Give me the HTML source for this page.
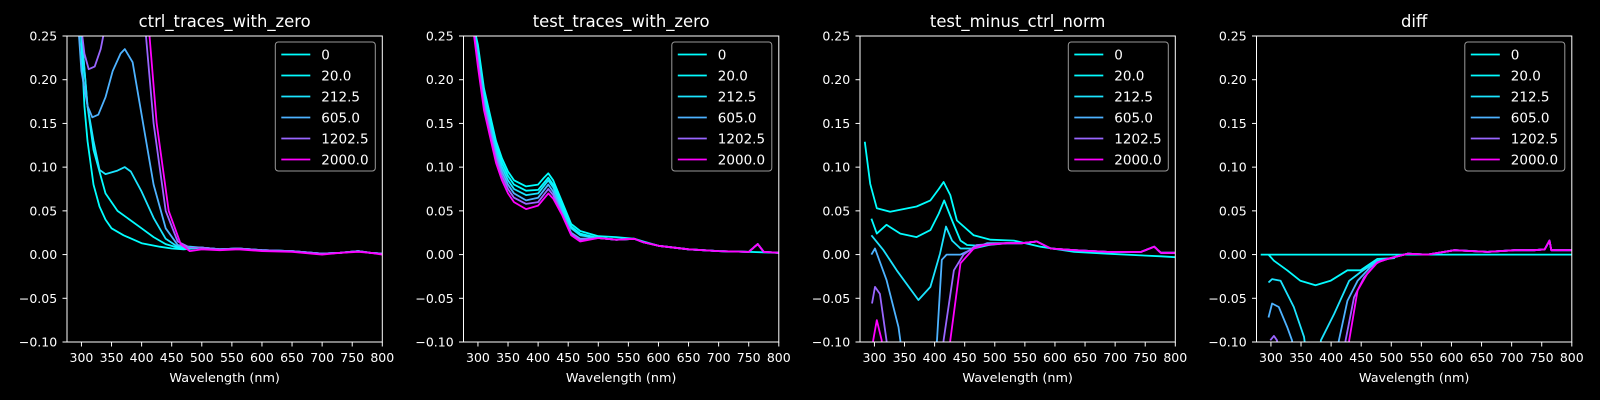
<!DOCTYPE html>
<html><head><meta charset="utf-8"><style>
html,body{margin:0;padding:0;background:#000;}
svg{display:block;}
text{font-family:"DejaVu Sans","Liberation Sans",sans-serif;fill:#fff;}
</style></head><body>
<svg id="fig" width="1600" height="400" viewBox="0 0 1600 400"></svg>
<script>
const legendLabels = ["0","20.0","212.5","605.0","1202.5","2000.0"];
const seriesColors = ["#00ffff","#03fcff","#1be4ff","#4db2ff","#9966ff","#ff00ff"];
const panelTitles = ["ctrl_traces_with_zero","test_traces_with_zero","test_minus_ctrl_norm","diff"];
const xTicks = [300,350,400,450,500,550,600,650,700,750,800];
const yTicks = [-0.10,-0.05,0.00,0.05,0.10,0.15,0.20,0.25];
const xDomain = [276,800];
const yDomain = [-0.10,0.25];

const tail1 = [[500,0.008],[530,0.006],[560,0.007],[600,0.005],[650,0.004],[700,0.001],[730,0.002],[760,0.004],[780,0.002],[800,0.001]];
const ctrl0 = [[298,0.27],[305,0.17],[310,0.13],[320,0.08],[330,0.055],[340,0.04],[350,0.03],[370,0.022],[400,0.013],[430,0.009],[450,0.007],[470,0.006]].concat(tail1);
const ctrl20 = [[298,0.27],[310,0.17],[320,0.12],[340,0.07],[360,0.05],[380,0.04],[400,0.03],[420,0.02],[440,0.012],[460,0.008]].concat(tail1);
const ctrl212 = [[298,0.27],[310,0.17],[320,0.13],[330,0.097],[340,0.092],[360,0.096],[372,0.1],[382,0.095],[400,0.072],[420,0.042],[440,0.018],[460,0.009],[480,0.009]].concat(tail1);
const ctrl605 = [[294,0.27],[300,0.21],[310,0.17],[318,0.157],[328,0.16],[340,0.18],[352,0.21],[365,0.23],[372,0.235],[385,0.22],[400,0.16],[420,0.08],[440,0.03],[460,0.011],[480,0.008]].concat(tail1);
const ctrl1202 = [[298,0.27],[305,0.23],[312,0.212],[322,0.215],[332,0.235],[342,0.27],[400,0.3],[406,0.26],[420,0.15],[440,0.05],[460,0.015],[480,0.008]].concat(tail1);
const ctrl2000 = [[405,0.3],[412,0.26],[425,0.15],[445,0.05],[465,0.012],[480,0.004],[500,0.006],[530,0.005],[560,0.006],[600,0.004],[650,0.003],[700,0.0],[730,0.002],[760,0.003],[780,0.002],[800,0.0]];

const tail2 = [[500,0.019],[530,0.017],[560,0.018],[575,0.014],[600,0.01],[650,0.006],[700,0.004],[750,0.003],[765,0.012],[775,0.003],[800,0.002]];
const test0 = [[290,0.27],[300,0.24],[310,0.19],[320,0.16],[330,0.13],[340,0.11],[350,0.095],[360,0.085],[380,0.078],[400,0.08],[410,0.088],[417,0.093],[425,0.085],[440,0.06],[455,0.035],[470,0.027],[500,0.021],[530,0.02],[560,0.018],[575,0.015],[600,0.01],[650,0.006],[700,0.004],[750,0.003],[800,0.002]];
const test20 = [[290,0.27],[300,0.235],[310,0.185],[320,0.155],[330,0.125],[340,0.105],[350,0.09],[360,0.08],[380,0.073],[400,0.074],[417,0.088],[425,0.08],[440,0.056],[455,0.032],[470,0.024]].concat(tail2);
const test212 = [[290,0.27],[300,0.23],[310,0.18],[320,0.15],[330,0.12],[340,0.1],[350,0.085],[360,0.075],[380,0.068],[400,0.07],[417,0.085],[425,0.077],[440,0.052],[455,0.03],[470,0.022]].concat(tail2);
const test605 = [[290,0.27],[300,0.225],[310,0.175],[320,0.145],[330,0.115],[340,0.095],[350,0.08],[360,0.07],[380,0.062],[400,0.065],[417,0.08],[425,0.072],[440,0.048],[455,0.025],[470,0.018]].concat(tail2);
const test1202 = [[290,0.27],[300,0.22],[310,0.17],[320,0.14],[330,0.11],[340,0.09],[350,0.075],[360,0.065],[380,0.058],[400,0.06],[417,0.075],[425,0.068],[440,0.046],[455,0.024],[470,0.017]].concat(tail2);
const test2000 = [[290,0.27],[300,0.215],[310,0.165],[320,0.135],[330,0.105],[340,0.085],[350,0.07],[360,0.06],[380,0.052],[400,0.056],[417,0.07],[425,0.064],[440,0.045],[455,0.022],[470,0.015]].concat(tail2);

const tail3 = [[520,0.013],[545,0.013],[570,0.015],[593,0.007],[632,0.005],[687,0.003],[743,0.003],[765,0.009],[776,0.002],[800,0.002]];
const norm0 = [[284,0.129],[293,0.081],[304,0.053],[326,0.049],[370,0.055],[393,0.062],[407,0.075],[415,0.083],[426,0.068],[437,0.039],[465,0.022],[493,0.017],[532,0.016],[576,0.009],[632,0.003],[687,0.001],[743,-0.001],[776,-0.002],[800,-0.003]];
const norm20 = [[295,0.041],[304,0.024],[320,0.034],[343,0.024],[370,0.02],[393,0.028],[407,0.047],[416,0.062],[429,0.039],[443,0.016],[454,0.011],[476,0.01],[500,0.012]].concat(tail3);
const norm212 = [[295,0.022],[315,0.005],[337,-0.018],[373,-0.052],[393,-0.037],[409,0.001],[419,0.032],[429,0.016],[443,0.007],[465,0.007],[490,0.011]].concat(tail3);
const norm605 = [[295,0.0],[301,0.007],[320,-0.029],[340,-0.083],[343,-0.098],[350,-0.14],[395,-0.14],[404,-0.098],[412,-0.006],[420,0.0],[443,0.0],[465,0.007],[487,0.013]].concat(tail3);
const norm1202 = [[296,-0.056],[301,-0.037],[309,-0.045],[320,-0.098],[325,-0.14],[410,-0.14],[415,-0.098],[432,-0.018],[448,0.0],[470,0.011]].concat(tail3);
const norm2000 = [[297,-0.14],[298,-0.098],[304,-0.075],[312,-0.098],[315,-0.14],[420,-0.14],[426,-0.098],[443,-0.01],[465,0.007],[482,0.011]].concat(tail3);

const tail4 = [[494,-0.005],[527,0.001],[560,0.0],[605,0.005],[660,0.003],[705,0.005],[738,0.005],[755,0.006],[763,0.016],[766,0.005],[800,0.005]];
const diff0 = [[283,0.0],[800,0.0]];
const diff20 = [[296,0.0],[305,-0.007],[327,-0.018],[349,-0.03],[374,-0.035],[399,-0.03],[427,-0.018],[449,-0.018],[477,-0.005],[505,-0.004]].concat(tail4);
const diff212 = [[296,-0.032],[302,-0.028],[316,-0.03],[338,-0.06],[355,-0.094],[362,-0.13],[378,-0.13],[383,-0.098],[405,-0.068],[430,-0.03],[449,-0.02],[477,-0.007]].concat(tail4);
const diff605 = [[296,-0.072],[302,-0.056],[313,-0.06],[327,-0.083],[335,-0.098],[340,-0.13],[405,-0.13],[413,-0.098],[427,-0.053],[444,-0.03],[466,-0.014],[483,-0.007]].concat(tail4);
const diff1202 = [[299,-0.098],[305,-0.093],[310,-0.098],[313,-0.13],[418,-0.13],[424,-0.098],[438,-0.049],[455,-0.026],[477,-0.009]].concat(tail4);
const diff2000 = [[300,-0.13],[425,-0.13],[430,-0.098],[444,-0.041],[460,-0.022],[477,-0.009]].concat(tail4);

const panelSeries = [
  [ctrl0,ctrl20,ctrl212,ctrl605,ctrl1202,ctrl2000],
  [test0,test20,test212,test605,test1202,test2000],
  [norm0,norm20,norm212,norm605,norm1202,norm2000],
  [diff0,diff20,diff212,diff605,diff1202,diff2000]
];

const NS = "http://www.w3.org/2000/svg";
const svg = document.getElementById('fig');
const lefts = [67,463.5,860,1256.5];
const W = 315.3, TOP = 36, BOT = 342;
function mk(tag, attrs, parent){
  const e = document.createElementNS(NS, tag);
  for (const k in attrs) e.setAttribute(k, attrs[k]);
  parent.appendChild(e); return e;
}
lefts.forEach((L, p) => {
  const xs = v => L + (v - xDomain[0]) / (xDomain[1] - xDomain[0]) * W;
  const ys = v => BOT - (v - yDomain[0]) / (yDomain[1] - yDomain[0]) * (BOT - TOP);
  const g = mk('g', {}, svg);
  
  
  const cp = mk('clipPath', {id: 'clip' + p}, g);
  mk('rect', {x: L, y: TOP, width: W, height: BOT - TOP}, cp);
  const title = mk('text', {x: L + W/2, y: 27, 'text-anchor': 'middle', 'font-size': '16.4'}, g);
  title.textContent = panelTitles[p];
  
  
  const xl = mk('text', {x: L + W/2, y: 382, 'text-anchor': 'middle', 'font-size': '12.8'}, g);
  xl.textContent = 'Wavelength (nm)';
  
  
  xTicks.forEach(t => {
    const x = xs(t);
    mk('line', {x1: x, x2: x, y1: BOT, y2: BOT + 4.5, stroke: '#fff', 'stroke-width': 1}, g);
    const tx = mk('text', {x: x, y: 361.8, 'text-anchor': 'middle', 'font-size': '12.5'}, g);
    tx.textContent = String(t);
    
    
  });
  yTicks.forEach(t => {
    const y = ys(t);
    mk('line', {x1: L - 4.5, x2: L, y1: y, y2: y, stroke: '#fff', 'stroke-width': 1}, g);
    const ty = mk('text', {x: L - 9.8, y: y + 4.5, 'text-anchor': 'end', 'font-size': '12.5'}, g);
    ty.textContent = (t < 0 ? '\u2212' : '') + Math.abs(t).toFixed(2);
    
    
  });
  const sg = mk('g', {'clip-path': 'url(#clip' + p + ')'}, g);
  panelSeries[p].forEach((pts, i) => {
    const d = pts.map((q, j) => (j ? 'L' : 'M') + xs(q[0]).toFixed(1) + ',' + ys(q[1]).toFixed(1)).join('');
    const path = mk('path', {d: d, fill: 'none', stroke: seriesColors[i], 'stroke-width': 1.8, 'stroke-linejoin': 'round'}, sg);
    
    
  });
  mk('rect', {x: L, y: TOP, width: W, height: BOT - TOP, fill: 'none', stroke: '#fff', 'stroke-width': 1}, g);
  const lg = mk('g', {}, g);
  
  
  const lx = L + W - 7 - 100;
  mk('rect', {x: lx, y: 42, width: 100, height: 129, rx: 3, fill: '#000', 'fill-opacity': 0.8, stroke: '#999', 'stroke-width': 1}, lg);
  legendLabels.forEach((lab, i) => {
    const y = 54.5 + i * 21;
    mk('line', {x1: lx + 6, x2: lx + 35, y1: y, y2: y, stroke: seriesColors[i], 'stroke-width': 1.8}, lg);
    const t = mk('text', {x: lx + 46, y: y + 4.8, 'font-size': '13.5'}, lg);
    t.textContent = lab;
    
    
  });
});
</script>
</body></html>
